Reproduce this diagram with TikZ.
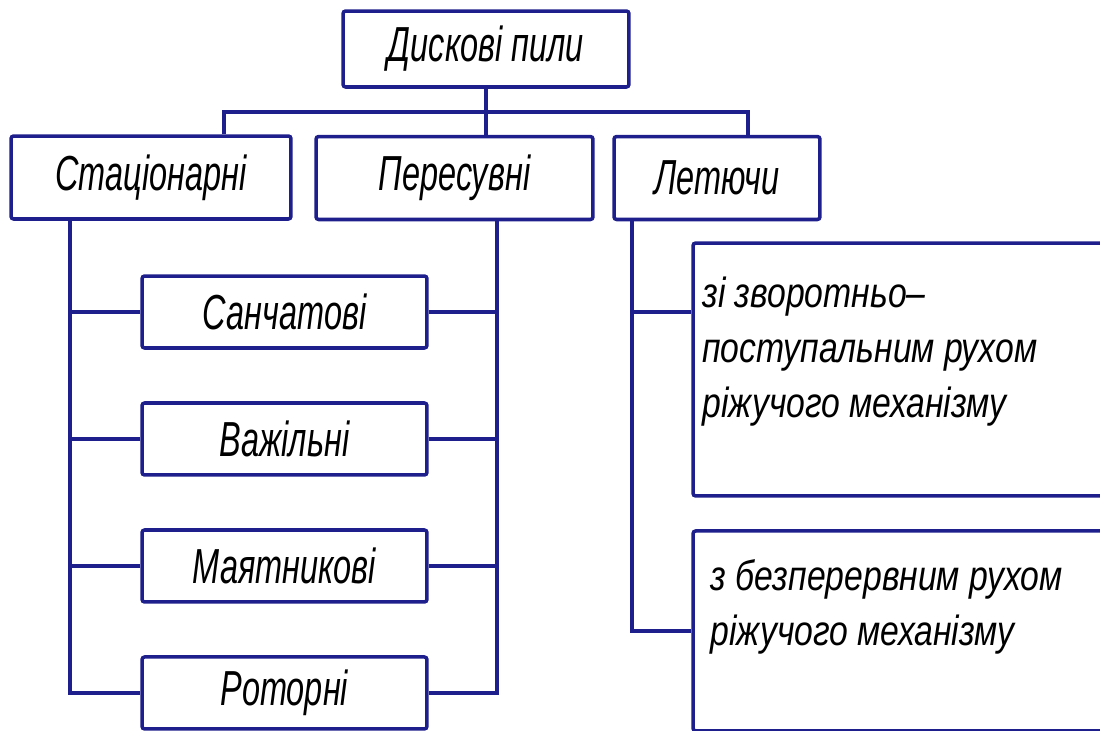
\documentclass[tikz,border=0pt]{standalone}
\usepackage{fontspec}
\usepackage{tikz}
\usetikzlibrary{positioning}
\newfontfamily\gostfont{Liberation Sans}[FakeStretch=0.66]
\newfontfamily\gostnote{Liberation Sans}[FakeStretch=0.8]
\definecolor{frame}{HTML}{1E1E8C}
\tikzset{
  box/.style={draw=frame,line width=2pt,rounded corners=1.5pt,fill=white,
    inner sep=0pt,align=center,font=\gostfont\itshape\fontsize{28}{34}\selectfont},
  topbox/.style={box,minimum width=5.72cm,minimum height=1.52cm},
  kindbox/.style={box,minimum height=1.66cm},
  subbox/.style={box,minimum width=5.7cm,minimum height=1.44cm},
  widebox/.style={box,minimum width=8.34cm},
  note/.style={inner sep=0pt,align=left,anchor=north west,
    font=\gostnote\itshape\fontsize{24}{31.3}\selectfont},
  link/.style={draw=frame,line width=1.9pt},
}
\begin{document}
\begin{tikzpicture}[x=0.02cm,y=-0.02cm,node distance=1.03cm]
  \useasboundingbox (0,0) rectangle (1100,731);
  \clip (0,0) rectangle (1100,731);
  \node[topbox](saws) at (486,49){Дискові пили};
  \node[kindbox,minimum width=5.6cm](stat) at (151,177.5){Стаціонарні};
  \node[kindbox,minimum width=5.54cm](pers) at (454.5,178){Пересувні};
  \node[kindbox,minimum width=4.12cm](fly) at (717,178){Летючи};
  \node[subbox](sanch) at (284.5,312){Санчатові};
  \node[subbox,below=of sanch](vazh){Важільні};
  \node[subbox,below=of vazh](mayat){Маятникові};
  \node[subbox,below=of mayat](rotor){Роторні};
  \node[widebox,minimum height=5.06cm](zvor) at (901.5,369.5){};
  \node[widebox,minimum height=4cm,below=6.3mm of zvor](bezp){};
  \node[note](zvorT) at (702,277){зі зворотньо–\\поступальним рухом\\ріжучого механізму};
  \node[note](bezpT) at (710,559){з безперервним рухом\\ріжучого механізму};
  % links
  \coordinate (busL) at (224,112);
  \coordinate (busR) at (748,112);
  \coordinate (trunkL) at (70,0);
  \coordinate (trunkR) at (497,0);
  \coordinate (trunkF) at (632,0);
  \draw[link](saws) -- (saws.south |- pers.north);
  \draw[link](busL |- stat.north) -- (busL) -- (busR) -- (busR |- fly.north);
  \draw[link](stat.south -| trunkL) |- (rotor.west);
  \draw[link](pers.south -| trunkR) |- (rotor.east);
  \foreach \n in {sanch,vazh,mayat}{
    \draw[link](\n.west) -- (\n.west -| trunkL);
    \draw[link](\n.east) -- (\n.east -| trunkR);
  }
  \draw[link](fly.south -| trunkF) |- (bezp.west);
  \draw[link](sanch.east -| trunkF) -- (sanch.east -| zvor.west);
\end{tikzpicture}
\end{document}
